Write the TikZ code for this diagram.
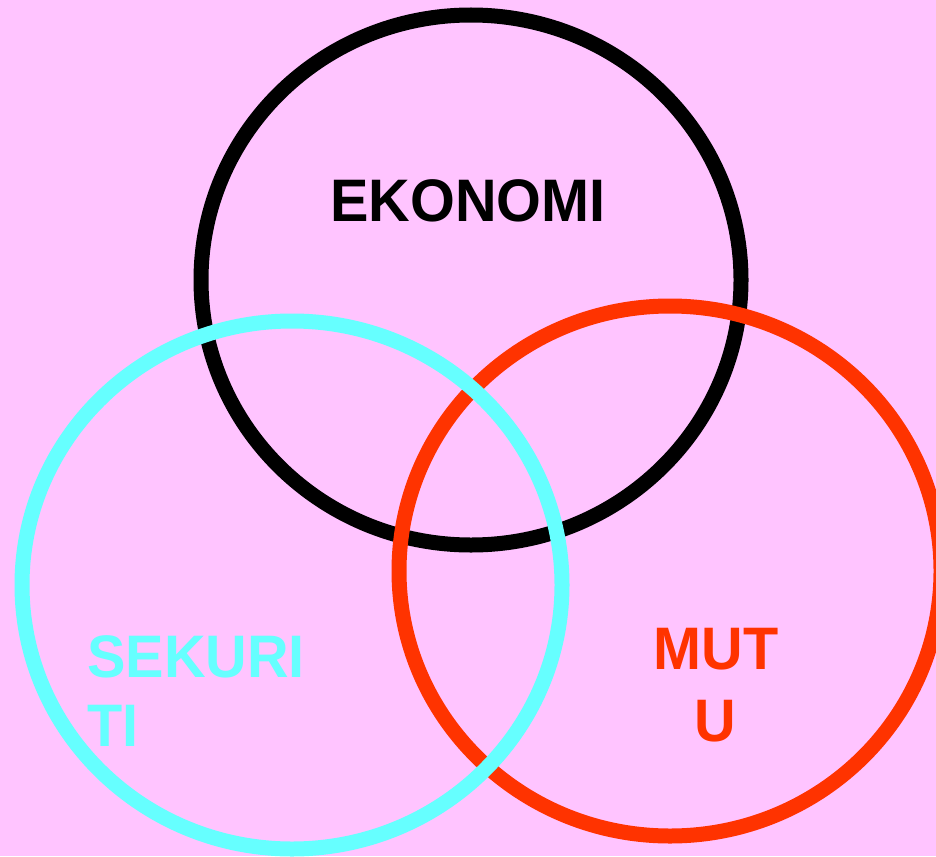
\documentclass[tikz,border=0pt]{standalone}
\usepackage{fontspec}
\setmainfont{Liberation Sans}[FakeStretch=0.96]
\definecolor{bgpink}{RGB}{255,196,255}
\definecolor{ringcyan}{RGB}{102,255,255}
\definecolor{ringred}{RGB}{255,51,0}
\begin{document}
\begin{tikzpicture}[x=1pt, y=-1pt]
\tikzset{ring/.style={line width=15pt},
  lbl/.style={font=\fontsize{60}{70}\selectfont\bfseries, inner sep=0pt, anchor=base}}

% background and page size
\fill[bgpink] (0,0) rectangle (936,856);
\useasboundingbox (0,0) rectangle (936,856);

% rings: black first, then red, cyan on top
\draw[ring, black] (471,280) ellipse [x radius=270, y radius=265];
\draw[ring, ringred] (670,571) ellipse [x radius=271, y radius=265];
\draw[ring, ringcyan] (292,585) ellipse [x radius=270, y radius=264];

% labels
\node[lbl, text=black] (ekonomi) at (468,221) {EKONOMI};
\node[lbl, text=ringcyan, anchor=base west] (sekuri) at (87,677) {SEKURI};
\node[lbl, text=ringcyan, anchor=base west] (ti) at (87,746) {TI};
\node[lbl, text=ringred] (mut) at (716,669) {MUT};
\node[lbl, text=ringred] (u) at (715,741) {U};

\end{tikzpicture}
\end{document}
